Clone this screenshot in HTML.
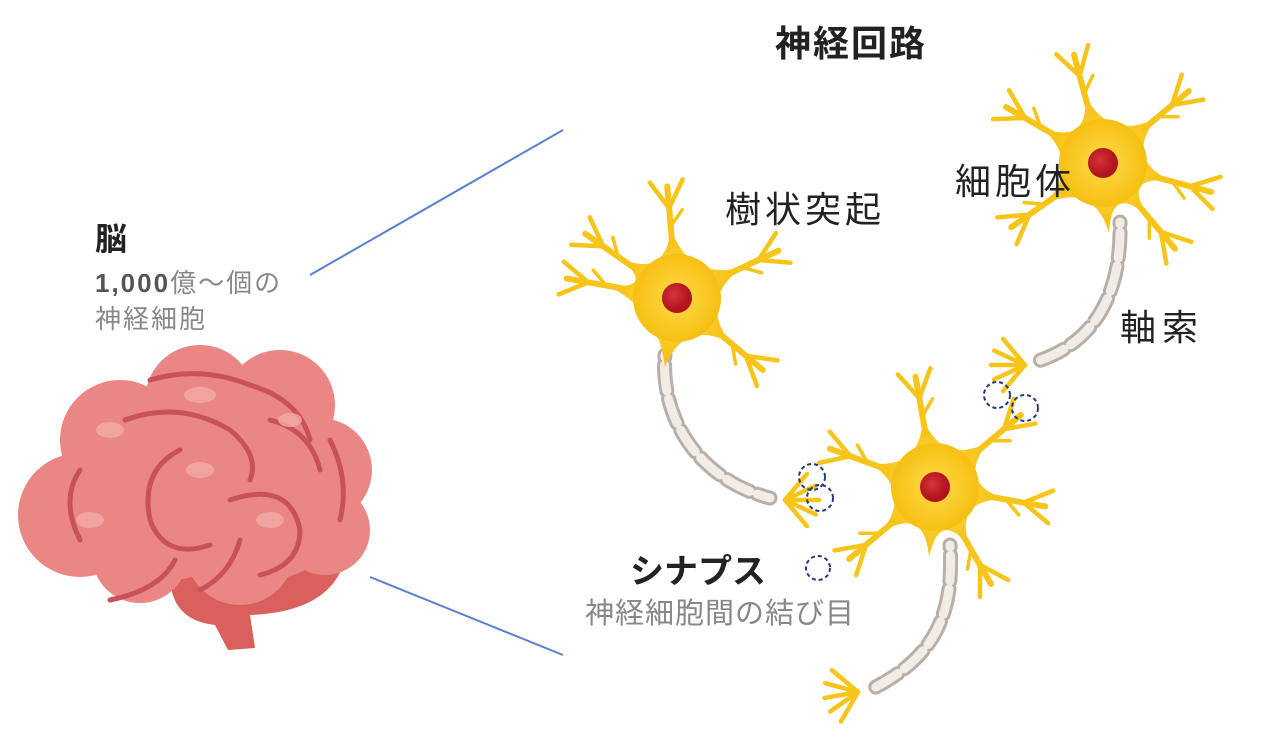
<!DOCTYPE html>
<html><head><meta charset="utf-8"><style>
html,body{margin:0;padding:0;background:#fff;}
svg{display:block}
text{font-family:"Liberation Sans","Noto Sans CJK JP",sans-serif;}
</style></head><body>
<svg id="s" width="1282" height="746" viewBox="0 0 1282 746" xmlns="http://www.w3.org/2000/svg">
<defs>
<radialGradient id="sg"><stop offset="0" stop-color="#ffdb4a"/><stop offset="1" stop-color="#f6bf12"/></radialGradient>
<radialGradient id="ng" cx="0.4" cy="0.4"><stop offset="0" stop-color="#d8343c"/><stop offset="1" stop-color="#b0141c"/></radialGradient>
</defs>
<line x1="310" y1="275" x2="563" y2="130" stroke="#5a7fd0" stroke-width="2"/>
<line x1="370" y1="577" x2="563" y2="655" stroke="#5a7fd0" stroke-width="2"/>
<!-- brain -->
<g>
<path d="M170,575 Q170,620 215,625 L228,650 L255,648 L250,615 Q330,612 345,560 Z" fill="#d9605c"/>
<g fill="#ea8784">
<circle cx="120" cy="440" r="60"/><circle cx="200" cy="400" r="55"/><circle cx="280" cy="405" r="55"/>
<circle cx="320" cy="470" r="52"/><circle cx="80" cy="515" r="62"/><circle cx="170" cy="495" r="85"/>
<circle cx="265" cy="495" r="85"/><circle cx="240" cy="550" r="55"/><circle cx="140" cy="555" r="48"/>
<circle cx="325" cy="530" r="45"/>
</g>
<g fill="none" stroke="#c9525a" stroke-width="5" stroke-linecap="round">
<path d="M150,380 Q200,365 250,385 Q300,400 310,440"/>
<path d="M125,420 Q180,400 230,430 Q260,455 250,480"/>
<path d="M180,450 Q140,470 150,520 Q165,560 210,545"/>
<path d="M230,500 Q290,480 300,530 Q300,565 260,575"/>
<path d="M80,470 Q60,500 80,540"/>
<path d="M110,600 Q160,590 175,560"/>
<path d="M330,440 Q350,480 340,520"/>
<path d="M270,420 Q310,430 320,470"/>
<path d="M200,590 Q230,575 240,540"/>
</g>
<g fill="#f3aaa6" opacity="0.8">
<ellipse cx="110" cy="430" rx="14" ry="8"/><ellipse cx="200" cy="395" rx="16" ry="8"/><ellipse cx="290" cy="420" rx="12" ry="7"/>
<ellipse cx="90" cy="520" rx="14" ry="8"/><ellipse cx="200" cy="470" rx="14" ry="8"/><ellipse cx="270" cy="520" rx="14" ry="8"/>
</g>
</g>
<g id="neurons"></g>
<circle cx="818" cy="568" r="12" fill="none" stroke="#243a78" stroke-width="2" stroke-dasharray="4 3"/>
<g fill="none" stroke="#243a78" stroke-width="2" stroke-dasharray="4 3">
<circle cx="812" cy="477" r="13"/><circle cx="820" cy="498" r="13"/>
<circle cx="997" cy="395" r="13"/><circle cx="1025" cy="408" r="13"/>
</g>
<text x="775" y="56" font-size="36" font-weight="bold" fill="#222" letter-spacing="2">神経回路</text>
<text x="725" y="222" font-size="36" fill="#222" letter-spacing="4">樹状突起</text>
<text x="955" y="194" font-size="36" fill="#222" letter-spacing="4">細胞体</text>
<text x="1120" y="340" font-size="36" fill="#222" letter-spacing="6">軸索</text>
<text x="630" y="583" font-size="34" font-weight="bold" fill="#222">シナプス</text>
<text x="585" y="623" font-size="29" fill="#888" letter-spacing="1">神経細胞間の結び目</text>
<text x="95" y="250" font-size="32" font-weight="bold" fill="#222">脳</text>
<text x="95" y="292" font-size="26" fill="#888" letter-spacing="2"><tspan font-weight="bold" fill="#555">1,000</tspan>億〜個の</text>
<text x="95" y="328" font-size="26" fill="#888" letter-spacing="2">神経細胞</text>
</svg>
<script>
var g=document.getElementById('neurons'),h='';
function P(cx,cy,a,r){a=a*Math.PI/180;return [cx+r*Math.cos(a),cy+r*Math.sin(a)];}
function neuron(cx,cy,angs,axonAng){
  var all=angs.concat([axonAng]).sort(function(a,b){return a-b});
  var d='';
  for(var i=0;i<all.length;i++){
    var a=all[i],b=all[(i+1)%all.length]; if(b<a)b+=360;
    var p=P(cx,cy,a,70),m=P(cx,cy,(a+b)/2,22),q=P(cx,cy,b,70);
    if(i==0)d+='M'+p[0]+','+p[1];
    d+=' Q'+m[0]+','+m[1]+' '+q[0]+','+q[1];
  }
  h+='<path d="'+d+'Z" fill="url(#sg)"/>';
  h+='<circle cx="'+cx+'" cy="'+cy+'" r="44" fill="url(#sg)"/>';
  angs.forEach(function(a){
    var s=P(cx,cy,a,55),e=P(cx,cy,a,112),f=P(cx,cy,a,90);
    h+='<line x1="'+s[0]+'" y1="'+s[1]+'" x2="'+e[0]+'" y2="'+e[1]+'" stroke="#f7c41a" stroke-width="6" stroke-linecap="round"/>';
    [-32,30].forEach(function(o){var r=a*Math.PI/180+o*Math.PI/180;var t=[f[0]+32*Math.cos(r),f[1]+32*Math.sin(r)];
      h+='<line x1="'+f[0]+'" y1="'+f[1]+'" x2="'+t[0]+'" y2="'+t[1]+'" stroke="#f7c41a" stroke-width="4.5" stroke-linecap="round"/>';});
    var f2=P(cx,cy,a,72);var r2=(a+40)*Math.PI/180;
    h+='<line x1="'+f2[0]+'" y1="'+f2[1]+'" x2="'+(f2[0]+20*Math.cos(r2))+'" y2="'+(f2[1]+20*Math.sin(r2))+'" stroke="#f7c41a" stroke-width="3.5" stroke-linecap="round"/>';
  });
  h+='<circle cx="'+cx+'" cy="'+cy+'" r="15" fill="url(#ng)"/>';
}
function axon(d,tx,ty,ang){
  h+='<path d="'+d+'" fill="none" stroke="#f7c41a" stroke-width="4"/>';
  h+='<path d="'+d+'" fill="none" stroke="#b8b0a8" stroke-width="15" stroke-dasharray="26 8" stroke-linecap="round" stroke-dashoffset="-10"/>';
  h+='<path d="'+d+'" fill="none" stroke="#f1ece6" stroke-width="9" stroke-dasharray="26 8" stroke-linecap="round" stroke-dashoffset="-10"/>';
  [-50,-25,0,25,50].forEach(function(o){var r=(ang+o)*Math.PI/180;
    h+='<line x1="'+tx+'" y1="'+ty+'" x2="'+(tx+34*Math.cos(r))+'" y2="'+(ty+34*Math.sin(r))+'" stroke="#f7c41a" stroke-width="4.5" stroke-linecap="round"/>';});
}
axon('M665,355 C660,420 700,480 770,498',785,500,0);
axon('M1120,222 C1122,300 1090,345 1035,362',1025,365,180);
axon('M950,545 C955,620 930,660 870,690',858,692,170);
neuron(677,298,[-145,-95,-25,40,190],100);
neuron(935,487,[-100,-40,10,60,140,200],95);
neuron(1103,163,[-105,-40,15,50,145,210],85);
g.innerHTML=h;
</script>
</body></html>
